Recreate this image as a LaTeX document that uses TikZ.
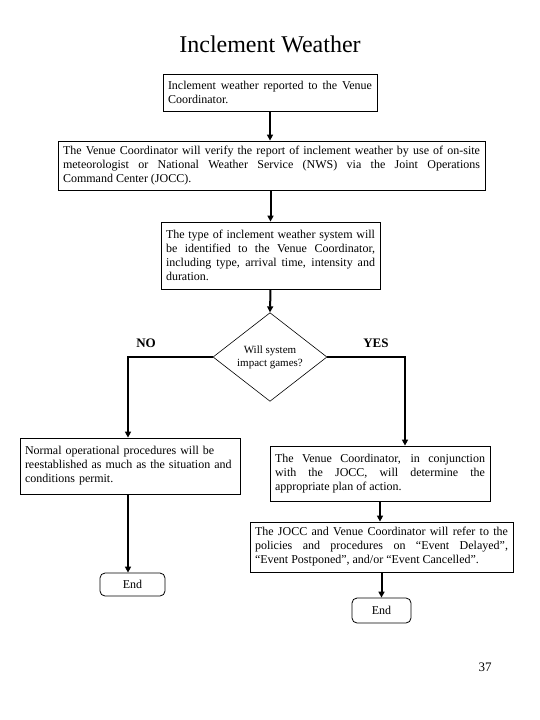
\documentclass[tikz,border=0pt]{standalone}
\usepackage{fontspec}
\setmainfont{Liberation Serif}
\usepackage{tikz}
\usetikzlibrary{arrows.meta,shapes.geometric,calc}

\begin{document}
\begin{tikzpicture}[x=1pt,y={(0pt,-1pt)},
        stepbox/.style={draw,line width=0.8pt,align=justify,inner xsep=5pt,inner ysep=3pt,
            font=\fontsize{12}{14}\selectfont},
        decision/.style={draw,diamond,line width=0.6pt,inner sep=0pt,align=center,
            minimum width=114pt,minimum height=87pt,font=\fontsize{11}{13}\selectfont},
        endbox/.style={draw,rounded corners=5pt,line width=0.8pt,font=\fontsize{12}{14}\selectfont},
        flow/.style={line width=2pt,-{Triangle[width=6pt,length=6pt]}},
        answer/.style={font=\fontsize{13}{15}\selectfont\bfseries}]
        \useasboundingbox (0,0) rectangle (540,720);
        \node [font=\fontsize{24}{28}\selectfont] (title) at (270, 44) {Inclement Weather};
        \node [stepbox,text width=204pt,minimum height=37pt] (reported) at (270, 92.5)
            {Inclement weather reported to the Venue\linebreak Coordinator.};
        \node [stepbox,text width=417pt,minimum height=49pt] (verify) at (271.5, 165.5)
            {The Venue Coordinator will verify the report of inclement weather by use of on-site\linebreak meteorologist or National Weather Service (NWS) via the Joint Operations\linebreak Command Center (JOCC).};
        \node [stepbox,text width=209pt,minimum height=67pt] (identify) at (270.5, 255.5)
            {The type of inclement weather system will\linebreak be identified to the Venue Coordinator,\linebreak including type, arrival time, intensity and\linebreak duration.};
        \node [decision] (impact) at (270, 357) {Will system\\impact games?};
        \node [answer] (no) at (146, 343) {NO};
        \node [answer] (yes) at (376, 343) {YES};
        \node [stepbox,align=left,text width=210pt,minimum height=56pt] (normal) at (130, 466)
            {Normal operational procedures will be\\reestablished as much as the situation and\\conditions permit.};
        \node [stepbox,text width=210pt,minimum height=55pt] (determine) at (380, 473.5)
            {The Venue Coordinator, in conjunction\linebreak with the JOCC, will determine the\linebreak appropriate plan of action.};
        \node [stepbox,text width=253pt,minimum height=50pt] (refer) at (381.5, 547)
            {The JOCC and Venue Coordinator will refer to the\linebreak policies and procedures on ``Event Delayed'',\linebreak ``Event Postponed'', and/or ``Event Cancelled''.};
        \node [endbox,minimum width=65pt,minimum height=23pt] (endl) at (132.5, 584.5) {End};
        \node [endbox,minimum width=59pt,minimum height=25pt] (endr) at (381.5, 610.5) {End};
        \node [font=\fontsize{13}{15}\selectfont] (page) at (485, 667) {37};
        % connectors
        \draw [flow] (reported.south) -- (reported.south |- verify.north);
        \draw [flow] (identify.north |- verify.south) -- (identify.north);
        \draw [flow] (identify.south) -- (impact.north);
        \draw [flow] (impact.west) -| ([xshift=-2pt]normal.north);
        \draw [flow] (impact.east) -| ([xshift=25pt]determine.north);
        \draw [flow] (determine.south) -- (determine.south |- refer.north);
        \draw [flow] (refer.south) -- (endr.north);
        \draw [flow] ([xshift=-2pt]normal.south) -- ([xshift=-2pt]normal.south |- endl.north);
    \end{tikzpicture}
\end{document}
